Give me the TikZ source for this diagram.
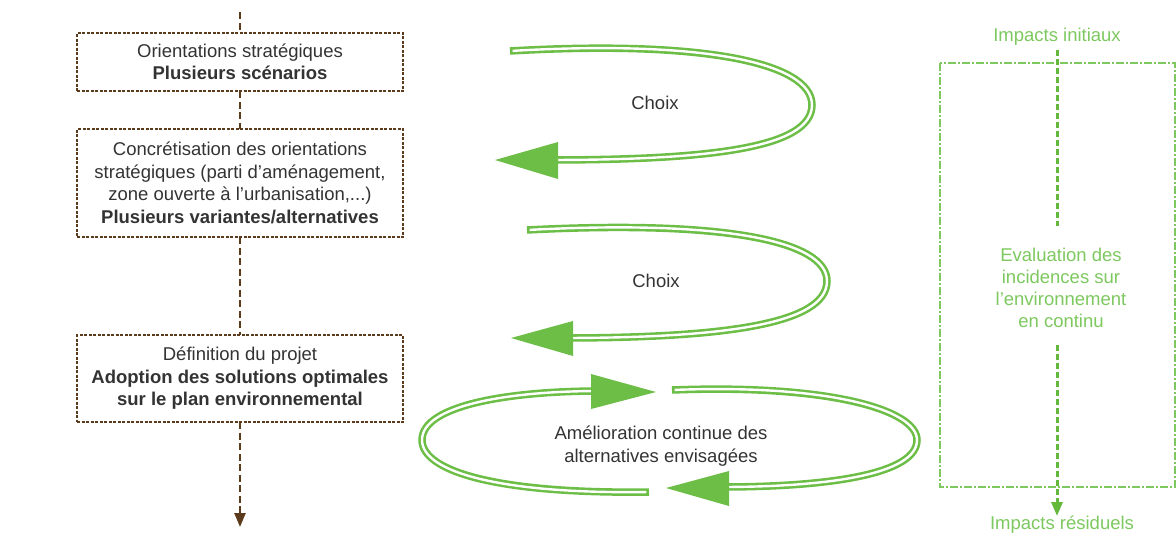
\documentclass[tikz,border=0pt]{standalone}
\usepackage{fontspec}
\setmainfont{Liberation Sans}
\usetikzlibrary{arrows.meta}
\definecolor{txt}{RGB}{51,51,51}
\definecolor{brn}{RGB}{92,58,28}
\definecolor{grn}{RGB}{108,190,70}
\definecolor{lgrn}{RGB}{125,200,95}
\definecolor{vgrn}{RGB}{100,185,60}
\begin{document}
\begin{tikzpicture}[x=1pt,y=-1pt,
  every node/.style={inner sep=0pt,outer sep=0pt},
  stepbox/.style={draw=brn,line width=1.1pt,dash pattern=on 3pt off 1.5pt,
    minimum width=326pt,align=center,text=txt,
    font=\fontsize{18.5pt}{22.5pt}\selectfont},
  lbl/.style={align=center,text=txt,font=\fontsize{18.5pt}{22.5pt}\selectfont},
  glbl/.style={align=center,text=lgrn,font=\fontsize{18.5pt}{22pt}\selectfont},
  brline/.style={draw=brn,line width=2.4pt,dash pattern=on 7pt off 3.5pt},
  gouter/.style={draw=grn,line width=7.5pt},
  ginner/.style={draw=white,line width=2.4pt,shorten <=2.6pt},
  ghead/.style={fill=grn},
  gbox/.style={draw=lgrn,line width=1.2pt,dash pattern=on 8pt off 2pt on 2pt off 2pt},
  gvline/.style={draw=vgrn,line width=3pt,dash pattern=on 6pt off 3pt}
]
\useasboundingbox (0,0) rectangle (1176,536);

% Left column boxes
\node[stepbox,minimum height=58pt] (b1) at (240,62)
  {Orientations stratégiques\\\textbf{Plusieurs scénarios}};
\node[stepbox,minimum height=108pt] (b2) at (240,183)
  {Concrétisation des orientations\\stratégiques (parti d’aménagement,\\zone ouverte à l’urbanisation,...)\\\textbf{Plusieurs variantes/alternatives}};
\node[stepbox,minimum height=87pt] (b3) at (240,378.5)
  {Définition du projet\\\textbf{Adoption des solutions optimales}\\\textbf{sur le plan environnemental}};

\coordinate (top) at (240,12);
\coordinate (bot) at (240,527);
\draw[brline] (top) -- (b1.north);
\draw[brline] (b1.south) -- (b2.north);
\draw[brline] (b2.south) -- (b3.north);
\draw[brline,-{Triangle[length=14pt,width=11pt]}] (b3.south) -- (bot);

% Choix loop 1
\draw[gouter] (510,51) .. controls (700,40) and (812,62) .. (812,105) .. controls (812,150) and (700,160) .. (545,160);
\draw[ginner] (510,51) .. controls (700,40) and (812,62) .. (812,105) .. controls (812,150) and (700,160) .. (545,160);
\fill[ghead] (495,160) -- (558,142) -- (558,179) -- cycle;
\node[lbl] (c1) at (655,103) {Choix};

% Choix loop 2
\draw[gouter] (527,230) .. controls (720,220) and (827,240) .. (827,281) .. controls (827,325) and (720,338) .. (560,338);
\draw[ginner] (527,230) .. controls (720,220) and (827,240) .. (827,281) .. controls (827,325) and (720,338) .. (560,338);
\fill[ghead] (511,338) -- (573,321) -- (573,356) -- cycle;
\node[lbl] (c2) at (656,281) {Choix};

% Improvement loop
\draw[gouter] (649,492) .. controls (500,494) and (422,472) .. (422,440) .. controls (422,405) and (510,391) .. (600,391);
\draw[ginner] (649,492) .. controls (500,494) and (422,472) .. (422,440) .. controls (422,405) and (510,391) .. (600,391);
\fill[ghead] (656,392) -- (591,374) -- (591,409) -- cycle;
\draw[gouter] (672,390) .. controls (830,384) and (917,410) .. (917,440) .. controls (917,474) and (830,487) .. (720,487);
\draw[ginner] (672,390) .. controls (830,384) and (917,410) .. (917,440) .. controls (917,474) and (830,487) .. (720,487);
\fill[ghead] (666,488) -- (729,471) -- (729,506) -- cycle;
\node[lbl] (amel) at (661,446) {Amélioration continue des\\alternatives envisagées};

% Right column
\draw[gbox] (940,63) rectangle (1175,487);
\node[glbl] (ii) at (1057,37) {Impacts initiaux};
\node[glbl] (ev) at (1061,288) {Evaluation des\\incidences sur\\l’environnement\\en continu};
\node[glbl] (ir) at (1062,525) {Impacts résiduels};
\coordinate (g1) at (1057,50);
\coordinate (g2) at (1057,226);
\coordinate (g3) at (1057,345);
\coordinate (g4) at (1057,516);
\draw[gvline] (g1) -- (g2);
\draw[gvline,-{Triangle[length=14pt,width=11pt]}] (g3) -- (g4);
\end{tikzpicture}
\end{document}
